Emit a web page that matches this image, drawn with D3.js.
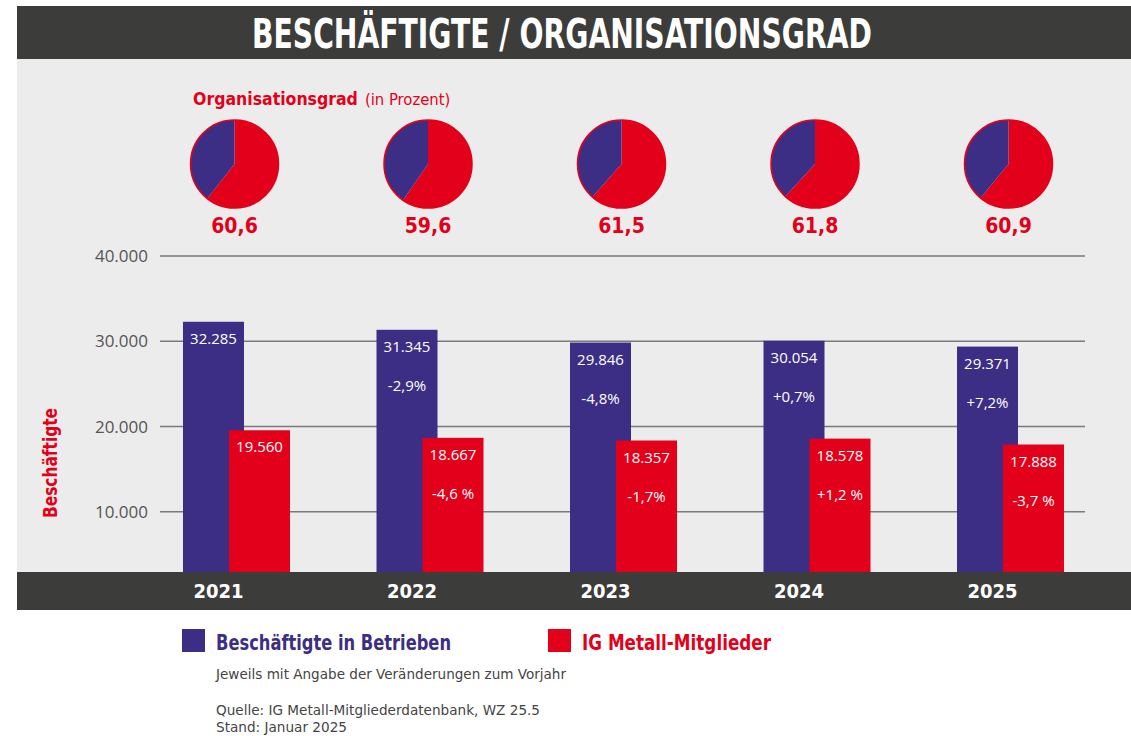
<!DOCTYPE html>
<html>
<head>
<meta charset="utf-8">
<script src="https://cdn.jsdelivr.net/npm/d3@7"></script>
<style>
body { margin: 0; background: #fff; }
.cond { font-family: "Liberation Sans Narrow", "DejaVu Sans Condensed", "Roboto", sans-serif; }
.reg { font-family: "Open Sans", "Noto Sans", sans-serif; }
.grid { stroke: #7a7a7a; stroke-width: 1.4px; }
</style>
</head>
<body>
<div id="chart"></div>
<script>
// data
const years = ["2021", "2022", "2023", "2024", "2025"];
const employees = [32285, 31345, 29846, 30054, 29371];
const members = [19560, 18667, 18357, 18578, 17888];
const empChange = ["", "-2,9%", "-4,8%", "+0,7%", "+7,2%"];
const memChange = ["", "-4,6 %", "-1,7%", "+1,2 %", "-3,7 %"];
const orgRate = [60.6, 59.6, 61.5, 61.8, 60.9];
const yTicks = [10000, 20000, 30000, 40000];

const BLUE = "#3c2e84", RED = "#e2001a", DARK = "#3c3c3a", PANEL = "#ececec";
const W = 1131, H = 736;

const de = d3.formatLocale({decimal: ",", thousands: ".", grouping: [3], currency: ["", "€"]});
const fmt = de.format(",d");
const fmt1 = de.format(",.1f");

const svg = d3.select("#chart").append("svg").attr("width", W).attr("height", H);

// background pieces
svg.append("rect").attr("x", 17).attr("y", 6).attr("width", W - 17).attr("height", 53).attr("fill", DARK);
svg.append("rect").attr("x", 17).attr("y", 59).attr("width", W - 17).attr("height", 513).attr("fill", PANEL);

svg.append("text").attr("class", "cond")
  .attr("x", 562).attr("y", 48).attr("text-anchor", "middle")
  .attr("font-size", 40).attr("font-weight", "bold").attr("fill", "#fff")
  .attr("textLength", 620).attr("lengthAdjust", "spacingAndGlyphs")
  .text("BESCHÄFTIGTE / ORGANISATIONSGRAD");

// scales
const x = d3.scalePoint().domain(years).range([236.5, 1010.5]);
const y = d3.scaleLinear().domain([0, 40000]).range([597, 256]);
const barW = 61;

// grid + y labels
svg.selectAll(".grid").data(yTicks).enter().append("line")
  .attr("class", "grid")
  .attr("x1", 160).attr("x2", 1085)
  .attr("y1", d => y(d)).attr("y2", d => y(d));

svg.selectAll(".ylab").data(yTicks).enter().append("text")
  .attr("class", "reg ylab")
  .attr("x", 148).attr("y", d => y(d) + 6)
  .attr("text-anchor", "end").attr("font-size", 17).attr("fill", "#555")
  .text(d => fmt(d));

svg.append("text").attr("class", "cond")
  .attr("transform", "translate(57,463) rotate(-90)")
  .attr("text-anchor", "middle").attr("font-size", 19).attr("font-weight", "bold").attr("fill", RED)
  .attr("textLength", 110).attr("lengthAdjust", "spacingAndGlyphs")
  .text("Beschäftigte");

// bars
const rows = years.map((yr, i) => ({yr, emp: employees[i], mem: members[i], ec: empChange[i], mc: memChange[i], org: orgRate[i]}));
const barsG = svg.append("g");
const grp = barsG.selectAll(".grp").data(rows).enter().append("g").attr("class", "grp");

grp.append("rect")
  .attr("x", d => x(d.yr) - 53.5).attr("y", d => y(d.emp))
  .attr("width", barW).attr("height", d => 572 - y(d.emp)).attr("fill", BLUE);
grp.append("rect")
  .attr("x", d => x(d.yr) - 7.5).attr("y", d => y(d.mem))
  .attr("width", barW).attr("height", d => 572 - y(d.mem)).attr("fill", RED);

function barText(sel, xo, key, dy, txt) {
  sel.append("text").attr("class", "reg")
    .attr("x", d => x(d.yr) + xo).attr("y", d => y(d[key]) + dy)
    .attr("text-anchor", "middle").attr("font-size", 15).attr("fill", "#fff")
    .text(txt);
}
barText(grp, -23, "emp", 22, d => fmt(d.emp));
barText(grp, -23, "emp", 61, d => d.ec);
barText(grp, 23, "mem", 22, d => fmt(d.mem));
barText(grp, 23, "mem", 61, d => d.mc);

// bottom dark bar with years
svg.append("rect").attr("x", 17).attr("y", 572).attr("width", W - 17).attr("height", 38).attr("fill", DARK);
svg.selectAll(".yr").data(years).enter().append("text")
  .attr("class", "cond yr")
  .attr("x", d => x(d) - 18).attr("y", 598)
  .attr("text-anchor", "middle").attr("font-size", 20).attr("font-weight", "bold").attr("fill", "#fff")
  .text(d => d);

// pies
const head = svg.append("text").attr("class", "cond")
  .attr("x", 193).attr("y", 105).attr("fill", RED);
head.append("tspan").attr("font-size", 17.5).attr("font-weight", "bold").text("Organisationsgrad");
head.append("tspan").attr("dx", 7).attr("font-size", 16.5).text("(in Prozent)");

const pie = d3.pie().sort(null).value(d => d.v);
const arc = d3.arc().innerRadius(0).outerRadius(44);
const pieG = svg.selectAll(".pie").data(rows).enter().append("g")
  .attr("class", "pie")
  .attr("transform", d => `translate(${x(d.yr) - 2},164)`);
pieG.selectAll("path")
  .data(d => pie([{v: d.org, c: RED}, {v: 100 - d.org, c: BLUE}]))
  .enter().append("path")
  .attr("d", arc).attr("fill", d => d.data.c);
pieG.append("circle").attr("r", 44).attr("fill", "none").attr("stroke", RED).attr("stroke-width", 1.5);
pieG.append("text").attr("class", "cond")
  .attr("y", 69).attr("text-anchor", "middle")
  .attr("font-size", 21).attr("font-weight", "bold").attr("fill", RED)
  .text(d => fmt1(d.org));

// legend
const leg = [
  {label: "Beschäftigte in Betrieben", c: BLUE, x: 182, len: 235},
  {label: "IG Metall-Mitglieder", c: RED, x: 548, len: 189}
];
const lg = svg.selectAll(".leg").data(leg).enter().append("g").attr("class", "leg");
lg.append("rect").attr("x", d => d.x).attr("y", 629).attr("width", 23).attr("height", 23).attr("fill", d => d.c);
lg.append("text").attr("class", "cond")
  .attr("x", d => d.x + 34).attr("y", 650)
  .attr("font-size", 22).attr("font-weight", "bold").attr("fill", d => d.c)
  .attr("textLength", d => d.len).attr("lengthAdjust", "spacingAndGlyphs")
  .text(d => d.label);

const notes = [
  {t: "Jeweils mit Angabe der Veränderungen zum Vorjahr", y: 679, len: 350},
  {t: "Quelle: IG Metall-Mitgliederdatenbank, WZ 25.5", y: 715, len: 324},
  {t: "Stand: Januar 2025", y: 732, len: 131}
];
svg.selectAll(".note").data(notes).enter().append("text")
  .attr("class", "cond note")
  .attr("x", 216).attr("y", d => d.y)
  .attr("font-size", 14.5).attr("fill", "#444")
  .attr("textLength", d => d.len).attr("lengthAdjust", "spacingAndGlyphs")
  .text(d => d.t);
</script>
</body>
</html>
